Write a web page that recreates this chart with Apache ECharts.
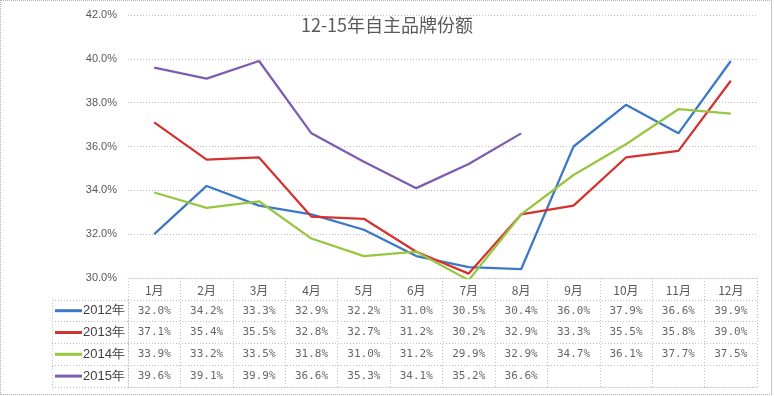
<!DOCTYPE html>
<html>
<head>
<meta charset="utf-8">
<script src="https://cdn.jsdelivr.net/npm/echarts@6/dist/echarts.min.js"></script>
<style>
html,body{margin:0;padding:0;background:#fff;}
#wrap{position:relative;width:774px;height:396px;}
#chart{position:absolute;left:0;top:0;width:774px;height:396px;}
#frame{position:absolute;left:0;top:0;width:770px;height:393px;border:1px dotted #b0b0b0;border-right:1px solid #c8c8c8;pointer-events:none;}
</style>
</head>
<body>
<div id="wrap"><div id="chart"></div><div id="frame"></div></div>
<script>
var months = ['1月','2月','3月','4月','5月','6月','7月','8月','9月','10月','11月','12月'];
var seriesNames = ['2012年','2013年','2014年','2015年'];
var v2012 = [32.0,34.2,33.3,32.9,32.2,31.0,30.5,30.4,36.0,37.9,36.6,39.9];
var v2013 = [37.1,35.4,35.5,32.8,32.7,31.2,30.2,32.9,33.3,35.5,35.8,39.0];
var v2014 = [33.9,33.2,33.5,31.8,31.0,31.2,29.9,32.9,34.7,36.1,37.7,37.5];
var v2015 = [39.6,39.1,39.9,36.6,35.3,34.1,35.2,36.6];
var yTicks = [30,32,34,36,38,40,42];
var colors = ['#3b78c6','#d5322f','#98c640','#7d5bb0'];

var allValues = [v2012, v2013, v2014, v2015];
var gridLine = {show:true, lineStyle:{color:'#bfbfbf', type:[1,2], width:1}};
var textColor = '#595959';
var monoFont = '"DejaVu Sans Mono", monospace';

var lineSeries = allValues.map(function(vals, i){
  return {
    name: seriesNames[i], type:'line', xAxisIndex:0, yAxisIndex:0,
    data: vals, showSymbol:false, symbol:'none',
    lineStyle:{color:colors[i], width:2.25}, itemStyle:{color:colors[i]},
    z: 3
  };
});

var cellData = [];
allValues.forEach(function(vals, i){
  vals.forEach(function(v, j){ cellData.push([months[j], seriesNames[i], v]); });
});

var rowCats = [''].concat(seriesNames);
var rich = {t:{fontSize:13, color:'#404040', fontFamily:'"Liberation Sans", Arial, sans-serif', padding:[0,0,0,1]}};
colors.forEach(function(c, i){ rich['l'+i] = {width:27, height:3, backgroundColor:c}; });

var option = {
  animation:false,
  title:{text:'12-15年自主品牌份额', left:'center', top:11,
    textStyle:{fontSize:18, fontWeight:'normal', color:textColor, fontFamily:'"Noto Sans CJK SC", sans-serif'}},
  grid:[
    {left:128, top:15, width:629, height:263},
    {left:128, top:278, width:629, height:109},
    {left:52, top:299.8, width:76, height:87.2}
  ],
  xAxis:[
    {gridIndex:0, type:'category', data:months, boundaryGap:true,
      axisLine:{show:true, lineStyle:{color:'#bfbfbf', type:[1,2]}}, axisTick:{show:false},
      axisLabel:{color:textColor, fontSize:12, margin:6, interval:0, fontFamily:'"Noto Sans CJK SC", sans-serif'}, splitLine:{show:false}},
    {gridIndex:1, type:'category', data:months, boundaryGap:true,
      axisLine:{show:true, lineStyle:{color:'#bfbfbf', type:[1,2]}}, axisTick:{show:false},
      axisLabel:{show:false}, splitLine:{show:true, interval:0, lineStyle:{color:'#bfbfbf', type:[1,2]}}},
    {gridIndex:2, type:'category', data:[''], boundaryGap:true,
      axisLine:{show:false}, axisTick:{show:false}, axisLabel:{show:false},
      splitLine:{show:true, interval:0, lineStyle:{color:'#bfbfbf', type:[1,2]}}}
  ],
  yAxis:[
    {gridIndex:0, type:'value', min:yTicks[0], max:yTicks[yTicks.length-1], interval:2,
      axisLine:{show:false}, axisTick:{show:false},
      axisLabel:{color:textColor, fontSize:11, margin:11, formatter:function(v){return v.toFixed(1)+'%';}},
      splitLine:gridLine},
    {gridIndex:1, type:'category', data:rowCats, inverse:true, boundaryGap:true,
      axisLine:{show:false}, axisTick:{show:false}, axisLabel:{show:false},
      splitLine:{show:true, interval:0, lineStyle:{color:'#bfbfbf', type:[1,2]}}},
    {gridIndex:2, type:'category', data:seriesNames, inverse:true, boundaryGap:true,
      axisLine:{show:false}, axisTick:{show:false},
      axisLabel:{inside:true, margin:3, align:'left', interval:0,
        formatter:function(v, idx){ return '{l'+idx+'|}{t|'+v+'}'; }, rich:rich},
      splitLine:{show:true, interval:0, lineStyle:{color:'#bfbfbf', type:[1,2]}}}
  ],
  series: lineSeries.concat([{
    type:'scatter', xAxisIndex:1, yAxisIndex:1, data:cellData,
    symbolSize:1, itemStyle:{color:'rgba(0,0,0,0)'}, silent:true,
    label:{show:true, position:'inside', color:'#404040', fontSize:11, fontFamily:monoFont,
      formatter:function(p){ return p.value[2].toFixed(1)+'%'; }}
  }])
};
var chart = echarts.init(document.getElementById('chart'), null, {renderer:'canvas'});
chart.setOption(option);
</script>
</body>
</html>
